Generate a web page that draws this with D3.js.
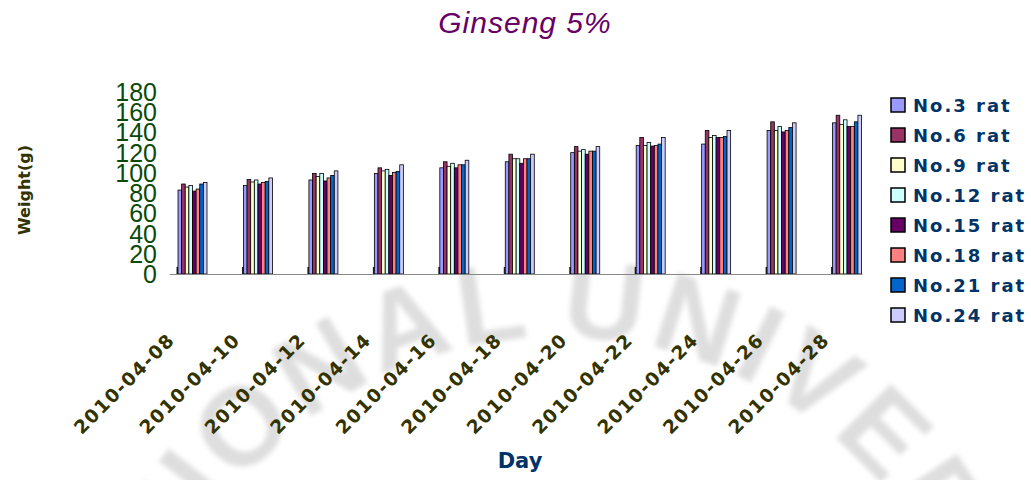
<!DOCTYPE html>
<html>
<head>
<meta charset="utf-8">
<script src="https://cdn.jsdelivr.net/npm/d3@7"></script>
<style>
  body { margin: 0; background: #fff; }
  svg { display: block; }
</style>
</head>
<body>
<div id="chart"></div>
<script>
const width = 1031, height = 480;

// data
const dates = ["2010-04-08", "2010-04-10", "2010-04-12", "2010-04-14", "2010-04-16", "2010-04-18",
	"2010-04-20", "2010-04-22", "2010-04-24", "2010-04-26", "2010-04-28"];
const seriesNames = ["No.3 rat", "No.6 rat", "No.9 rat", "No.12 rat", "No.15 rat", "No.18 rat", "No.21 rat", "No.24 rat"];
const seriesColors = ["#9999FF", "#993366", "#FFFFCC", "#CCFFFF", "#660066", "#FF8080", "#0066CC", "#CCCCFF"];

const no3  = [83, 87.5, 93, 99.5, 105, 111, 120, 127, 128.5, 142, 149.5];
const no6  = [89, 93.5, 99.5, 105, 111, 118.5, 126, 135, 142, 150.5, 157];
const no9  = [86, 91, 96.5, 102, 106.5, 114, 121.5, 127, 135, 142, 148];
const no12 = [87.5, 93, 99.5, 103.5, 109.5, 114, 123, 130, 137, 146, 152.5];
const no15 = [82, 89, 92, 97.5, 105, 109.5, 118.5, 126.5, 135, 140.5, 146];
const no18 = [84, 90.5, 95, 100.5, 108, 114, 121.5, 127, 135, 142, 146];
const no21 = [89, 91.5, 97.5, 101.5, 108, 114, 121.5, 128.5, 136, 145, 150.5];
const no24 = [90.5, 95, 102, 108, 112.5, 118.5, 126, 135, 142, 149.5, 157];
// short dark stub drawn at the left of every group
const stub = [7, 7, 7, 7, 7, 7, 7, 7, 7, 7, 7];

const yTicks = [0, 20, 40, 60, 80, 100, 120, 140, 160, 180];

const seriesValues = [no3, no6, no9, no12, no15, no18, no21, no24];

const svg = d3.select("#chart")
	.append("svg")
	.attr("width", width)
	.attr("height", height);

// faint watermark in the background
const defs = svg.append("defs");
defs.append("filter").attr("id", "blur")
	.append("feGaussianBlur").attr("stdDeviation", 2.5);
defs.append("path").attr("id", "arc")
	.attr("d", "M137,760 A423,423 0 0 1 983,760");
const wm = svg.append("g").attr("filter", "url(#blur)")
	.attr("fill", "#000").attr("fill-opacity", 0.13)
	.style("font-family", "'Liberation Sans', Arial, sans-serif")
	.style("font-weight", "bold")
	.style("font-size", "112px");
wm.append("text").style("letter-spacing", "6px")
	.append("textPath").attr("href", "#arc")
	.attr("startOffset", 640).attr("text-anchor", "end")
	.text("NATIONAL");
wm.append("text").style("letter-spacing", "6px")
	.append("textPath").attr("href", "#arc")
	.attr("startOffset", 665).attr("text-anchor", "start")
	.text("UNIVERSITY");

const x = d3.scaleBand()
	.domain(dates)
	.range([170, 890]);

const x1 = d3.scaleBand()
	.domain(seriesNames)
	.range([8, 37]);

const y = d3.scaleLinear()
	.domain([0, 180])
	.range([274, 92]);

// title
svg.append("text")
	.attr("x", 525)
	.attr("y", 33)
	.attr("text-anchor", "middle")
	.style("font-family", "'Liberation Sans', Arial, sans-serif")
	.style("font-style", "italic")
	.style("font-size", "30px")
	.style("letter-spacing", "1px")
	.attr("fill", "#660066")
	.text("Ginseng 5%");

// y tick labels
svg.append("g")
	.selectAll("text")
	.data(yTicks)
	.join("text")
	.attr("x", 157)
	.attr("y", d => y(d))
	.attr("dy", "0.36em")
	.attr("text-anchor", "end")
	.style("font-family", "'Liberation Sans Narrow', 'Liberation Sans', sans-serif")
	.style("font-size", "25px")
	.attr("fill", "#0b4a0b")
	.text(d => d);

// bars
const groups = svg.append("g")
	.selectAll("g")
	.data(dates)
	.join("g")
	.attr("transform", d => `translate(${x(d)},0)`);

groups.append("rect")
	.attr("x", 6.5)
	.attr("width", 1.8)
	.attr("y", (d, i) => y(stub[i]))
	.attr("height", (d, i) => y(0) - y(stub[i]))
	.attr("fill", "#222");

groups.selectAll(".bar")
	.data((d, i) => seriesNames.map((s, k) => ({ s, k, v: seriesValues[k][i] })))
	.join("rect")
	.attr("class", "bar")
	.attr("x", d => x1(d.s))
	.attr("width", x1.bandwidth())
	.attr("y", d => y(d.v))
	.attr("height", d => y(0) - y(d.v))
	.attr("fill", d => seriesColors[d.k])
	.attr("stroke", "#000")
	.attr("stroke-width", 0.8);

// x axis line
svg.append("line")
	.attr("x1", x.range()[0])
	.attr("x2", x(dates[dates.length - 1]) + 38)
	.attr("y1", y(0) + 0.5)
	.attr("y2", y(0) + 0.5)
	.attr("stroke", "#888")
	.attr("stroke-width", 1);

// x tick labels
svg.append("g")
	.selectAll("text")
	.data(dates)
	.join("text")
	.attr("transform", d => `translate(${x(d) + 6},341) rotate(-45)`)
	.attr("text-anchor", "end")
	.style("font-family", "'DejaVu Sans', sans-serif")
	.style("font-weight", "bold")
	.style("font-size", "18.5px")
	.style("letter-spacing", "1.5px")
	.attr("fill", "#333300")
	.text(d => d);

// axis titles
svg.append("text")
	.attr("x", 520)
	.attr("y", 468)
	.attr("text-anchor", "middle")
	.style("font-family", "'DejaVu Sans', sans-serif")
	.style("font-weight", "bold")
	.style("font-size", "21px")
	.attr("fill", "#003366")
	.text("Day");

svg.append("text")
	.attr("transform", "translate(30,190) rotate(-90)")
	.attr("text-anchor", "middle")
	.style("font-family", "'DejaVu Sans', sans-serif")
	.style("font-weight", "bold")
	.style("font-size", "16px")
	.attr("fill", "#333300")
	.text("Weight(g)");

// legend
const legend = svg.append("g")
	.selectAll("g")
	.data(seriesNames)
	.join("g")
	.attr("transform", (d, i) => `translate(891,${105 + i * 30})`);

legend.append("rect")
	.attr("x", 0)
	.attr("y", -7)
	.attr("width", 14)
	.attr("height", 14)
	.attr("fill", (d, i) => seriesColors[i])
	.attr("stroke", "#000")
	.attr("stroke-width", 1.5);

legend.append("text")
	.attr("x", 22)
	.attr("y", 6.5)
	.style("font-family", "'DejaVu Sans', sans-serif")
	.style("font-weight", "bold")
	.style("font-size", "18px")
	.style("letter-spacing", "2px")
	.attr("fill", "#003366")
	.text(d => d);
</script>
</body>
</html>
